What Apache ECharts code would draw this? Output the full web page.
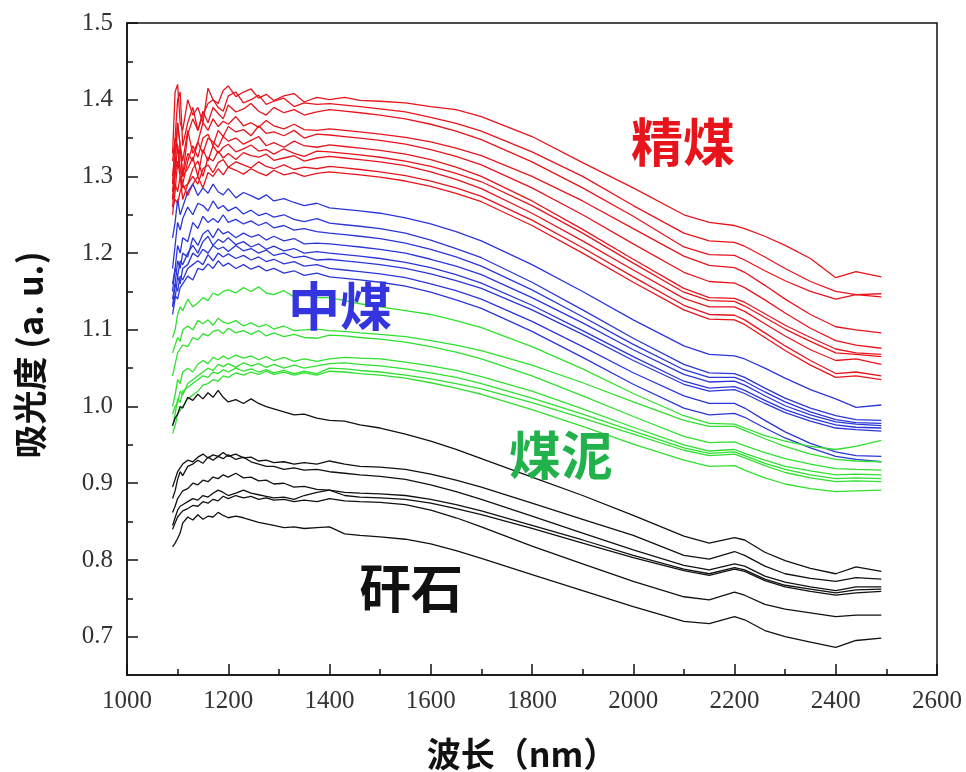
<!DOCTYPE html>
<html><head><meta charset="utf-8">
<script src="https://cdn.jsdelivr.net/npm/echarts@6/dist/echarts.min.js"></script>
<style>html,body{margin:0;padding:0;background:#fff}#c{width:966px;height:772px}</style>
</head><body><div id="c"></div>
<script>
const wavelengths = [1090,1095,1100,1105,1110,1120,1130,1140,1150,1160,1170,1180,1190,1200,1215,1230,1245,1260,1275,1290,1310,1330,1350,1375,1400,1430,1460,1500,1550,1600,1650,1700,1800,1900,2000,2100,2150,2200,2220,2260,2300,2350,2400,2440,2490];

const jingmei = [
 [1.33,1.41,1.42,1.37,1.36,1.40,1.38,1.39,1.37,1.415,1.40,1.395,1.412,1.418,1.404,1.41,1.414,1.402,1.407,1.399,1.405,1.408,1.397,1.403,1.400,1.403,1.399,1.398,1.396,1.391,1.387,1.378,1.352,1.318,1.285,1.250,1.240,1.236,1.232,1.222,1.210,1.193,1.168,1.176,1.169],
 [1.29,1.35,1.40,1.41,1.34,1.37,1.39,1.36,1.38,1.395,1.40,1.39,1.385,1.405,1.41,1.396,1.40,1.406,1.394,1.398,1.402,1.391,1.396,1.394,1.395,1.393,1.391,1.388,1.384,1.377,1.369,1.359,1.332,1.300,1.262,1.226,1.216,1.214,1.209,1.195,1.180,1.163,1.150,1.146,1.147],
 [1.27,1.31,1.37,1.34,1.30,1.355,1.375,1.36,1.385,1.37,1.39,1.382,1.375,1.393,1.384,1.388,1.395,1.385,1.38,1.39,1.383,1.387,1.38,1.384,1.387,1.385,1.383,1.380,1.375,1.368,1.359,1.348,1.319,1.285,1.248,1.208,1.198,1.197,1.191,1.177,1.164,1.150,1.140,1.146,1.143],
 [1.30,1.33,1.37,1.34,1.32,1.36,1.33,1.345,1.37,1.36,1.375,1.365,1.372,1.368,1.378,1.366,1.37,1.364,1.373,1.366,1.362,1.368,1.361,1.36,1.362,1.360,1.358,1.355,1.351,1.345,1.337,1.327,1.300,1.268,1.232,1.196,1.184,1.181,1.175,1.158,1.140,1.120,1.104,1.100,1.096],
 [1.26,1.30,1.34,1.31,1.29,1.32,1.34,1.325,1.35,1.355,1.34,1.36,1.352,1.365,1.358,1.361,1.353,1.366,1.356,1.358,1.353,1.36,1.35,1.355,1.354,1.352,1.350,1.347,1.342,1.335,1.326,1.315,1.285,1.250,1.212,1.175,1.163,1.161,1.155,1.139,1.122,1.102,1.086,1.080,1.076],
 [1.32,1.35,1.34,1.31,1.30,1.33,1.32,1.345,1.33,1.35,1.345,1.338,1.352,1.346,1.35,1.342,1.347,1.352,1.34,1.344,1.338,1.346,1.34,1.338,1.341,1.339,1.337,1.334,1.329,1.322,1.312,1.300,1.268,1.231,1.192,1.154,1.142,1.141,1.136,1.121,1.106,1.090,1.075,1.070,1.068],
 [1.28,1.32,1.31,1.34,1.30,1.31,1.325,1.30,1.335,1.32,1.34,1.33,1.338,1.342,1.332,1.336,1.341,1.333,1.335,1.329,1.336,1.33,1.326,1.333,1.332,1.330,1.328,1.325,1.320,1.313,1.304,1.293,1.262,1.226,1.187,1.149,1.138,1.137,1.131,1.116,1.101,1.085,1.070,1.068,1.065],
 [1.25,1.28,1.32,1.30,1.27,1.29,1.31,1.32,1.30,1.325,1.32,1.333,1.324,1.33,1.322,1.331,1.327,1.325,1.329,1.321,1.324,1.327,1.32,1.324,1.326,1.324,1.322,1.319,1.314,1.306,1.296,1.284,1.252,1.216,1.178,1.141,1.130,1.130,1.124,1.108,1.092,1.074,1.060,1.062,1.055],
 [1.27,1.29,1.28,1.30,1.285,1.29,1.30,1.29,1.31,1.315,1.305,1.318,1.322,1.312,1.319,1.315,1.311,1.319,1.313,1.31,1.315,1.309,1.312,1.31,1.313,1.311,1.309,1.306,1.301,1.294,1.285,1.274,1.243,1.207,1.169,1.132,1.120,1.119,1.113,1.096,1.079,1.060,1.043,1.045,1.040],
 [1.26,1.27,1.265,1.28,1.29,1.275,1.29,1.30,1.285,1.305,1.30,1.31,1.302,1.312,1.308,1.303,1.31,1.305,1.301,1.308,1.302,1.305,1.30,1.304,1.306,1.304,1.302,1.299,1.294,1.287,1.278,1.267,1.236,1.200,1.162,1.126,1.114,1.113,1.107,1.090,1.073,1.054,1.038,1.040,1.035]
];

const zhongmei = [
 [1.22,1.24,1.27,1.25,1.26,1.28,1.29,1.275,1.285,1.278,1.29,1.28,1.276,1.284,1.272,1.279,1.275,1.27,1.276,1.268,1.271,1.266,1.262,1.265,1.259,1.257,1.255,1.252,1.246,1.238,1.228,1.216,1.185,1.150,1.113,1.079,1.068,1.066,1.062,1.050,1.037,1.022,1.010,0.999,1.002],
 [1.18,1.21,1.24,1.23,1.245,1.26,1.25,1.265,1.262,1.255,1.268,1.258,1.262,1.255,1.26,1.251,1.256,1.249,1.252,1.247,1.25,1.244,1.241,1.245,1.239,1.237,1.235,1.232,1.226,1.217,1.206,1.194,1.162,1.126,1.089,1.055,1.044,1.043,1.038,1.024,1.011,0.998,0.988,0.983,0.982],
 [1.15,1.18,1.21,1.20,1.22,1.215,1.24,1.232,1.248,1.24,1.245,1.24,1.25,1.24,1.244,1.238,1.242,1.236,1.24,1.233,1.236,1.23,1.232,1.228,1.226,1.224,1.222,1.219,1.213,1.205,1.195,1.183,1.152,1.117,1.081,1.048,1.038,1.038,1.033,1.019,1.006,0.993,0.983,0.979,0.978],
 [1.13,1.16,1.19,1.18,1.20,1.195,1.22,1.21,1.225,1.23,1.22,1.232,1.225,1.228,1.22,1.226,1.221,1.224,1.217,1.222,1.216,1.219,1.212,1.213,1.212,1.210,1.208,1.205,1.200,1.192,1.183,1.172,1.142,1.109,1.074,1.042,1.032,1.033,1.028,1.014,1.001,0.989,0.980,0.977,0.975],
 [1.16,1.18,1.17,1.19,1.185,1.20,1.21,1.20,1.215,1.222,1.21,1.218,1.214,1.22,1.211,1.215,1.208,1.212,1.205,1.209,1.203,1.206,1.20,1.202,1.200,1.198,1.196,1.193,1.188,1.181,1.172,1.161,1.132,1.099,1.065,1.033,1.024,1.026,1.021,1.008,0.996,0.985,0.976,0.973,0.972],
 [1.12,1.14,1.17,1.16,1.18,1.185,1.20,1.195,1.205,1.20,1.21,1.205,1.208,1.202,1.21,1.203,1.206,1.20,1.204,1.197,1.20,1.194,1.196,1.191,1.192,1.190,1.188,1.185,1.180,1.173,1.164,1.154,1.126,1.094,1.060,1.029,1.020,1.022,1.017,1.004,0.992,0.981,0.972,0.970,0.968],
 [1.14,1.16,1.15,1.17,1.165,1.18,1.185,1.19,1.185,1.198,1.19,1.20,1.195,1.199,1.193,1.197,1.191,1.195,1.189,1.192,1.186,1.189,1.183,1.185,1.180,1.178,1.176,1.173,1.168,1.160,1.151,1.140,1.111,1.078,1.044,1.014,1.004,1.004,0.998,0.982,0.967,0.952,0.941,0.936,0.935],
 [1.13,1.145,1.14,1.155,1.16,1.17,1.165,1.18,1.178,1.186,1.18,1.19,1.183,1.187,1.18,1.185,1.179,1.183,1.177,1.18,1.174,1.177,1.171,1.174,1.169,1.167,1.165,1.162,1.157,1.149,1.139,1.128,1.098,1.064,1.029,0.998,0.989,0.991,0.986,0.972,0.959,0.946,0.935,0.931,0.928]
];

const meini = [
 [1.09,1.10,1.12,1.13,1.125,1.14,1.13,1.135,1.142,1.138,1.148,1.145,1.15,1.152,1.148,1.155,1.15,1.156,1.148,1.146,1.151,1.143,1.147,1.142,1.142,1.138,1.134,1.130,1.125,1.120,1.112,1.103,1.078,1.049,1.017,0.988,0.978,0.977,0.972,0.962,0.955,0.948,0.944,0.948,0.956],
 [1.07,1.08,1.09,1.085,1.10,1.105,1.10,1.112,1.108,1.113,1.106,1.115,1.11,1.108,1.112,1.105,1.109,1.104,1.107,1.101,1.105,1.099,1.10,1.101,1.099,1.098,1.096,1.094,1.091,1.086,1.080,1.073,1.054,1.031,1.006,0.982,0.974,0.974,0.969,0.958,0.948,0.938,0.931,0.929,0.928],
 [1.04,1.055,1.07,1.075,1.08,1.078,1.09,1.087,1.095,1.092,1.098,1.10,1.095,1.102,1.096,1.099,1.094,1.099,1.092,1.096,1.091,1.094,1.09,1.089,1.093,1.092,1.090,1.088,1.084,1.078,1.071,1.062,1.040,1.014,0.987,0.961,0.953,0.954,0.949,0.940,0.932,0.925,0.919,0.918,0.917],
 [1.00,1.015,1.035,1.03,1.045,1.05,1.045,1.055,1.06,1.056,1.064,1.061,1.066,1.062,1.067,1.063,1.066,1.061,1.065,1.06,1.064,1.059,1.062,1.059,1.062,1.064,1.063,1.062,1.058,1.053,1.047,1.039,1.020,0.997,0.973,0.950,0.942,0.944,0.939,0.930,0.922,0.916,0.911,0.912,0.911],
 [0.99,1.00,1.005,1.02,1.015,1.03,1.035,1.04,1.045,1.05,1.047,1.055,1.052,1.056,1.051,1.057,1.053,1.056,1.051,1.055,1.05,1.054,1.05,1.053,1.056,1.057,1.055,1.053,1.049,1.044,1.038,1.030,1.011,0.990,0.968,0.946,0.939,0.941,0.936,0.926,0.918,0.911,0.906,0.907,0.906],
 [0.975,0.99,1.01,1.005,1.02,1.025,1.03,1.035,1.04,1.038,1.045,1.043,1.048,1.045,1.05,1.046,1.049,1.045,1.048,1.044,1.047,1.043,1.046,1.043,1.050,1.049,1.047,1.045,1.041,1.036,1.030,1.023,1.005,0.985,0.964,0.943,0.936,0.938,0.933,0.923,0.914,0.907,0.902,0.903,0.902],
 [0.965,0.975,0.99,0.995,1.00,1.01,1.015,1.02,1.028,1.03,1.035,1.033,1.04,1.038,1.044,1.041,1.045,1.042,1.046,1.042,1.045,1.041,1.044,1.041,1.046,1.045,1.043,1.041,1.037,1.031,1.024,1.016,0.996,0.974,0.951,0.930,0.922,0.923,0.917,0.907,0.899,0.893,0.889,0.890,0.891]
];

const ganshi = [
 [0.975,0.985,0.99,1.00,0.998,1.012,1.008,1.016,1.01,1.018,1.012,1.021,1.012,1.006,1.009,1.004,1.01,1.004,1.00,0.997,0.993,0.989,0.99,0.985,0.982,0.981,0.976,0.972,0.964,0.955,0.944,0.932,0.908,0.884,0.858,0.831,0.822,0.829,0.826,0.810,0.799,0.789,0.782,0.791,0.785],
 [0.895,0.905,0.915,0.92,0.925,0.93,0.928,0.934,0.938,0.933,0.937,0.935,0.94,0.935,0.938,0.933,0.934,0.929,0.93,0.927,0.928,0.925,0.927,0.925,0.929,0.925,0.922,0.921,0.918,0.912,0.904,0.895,0.874,0.853,0.832,0.806,0.801,0.811,0.806,0.792,0.782,0.776,0.772,0.777,0.775],
 [0.88,0.89,0.905,0.915,0.91,0.922,0.925,0.93,0.926,0.934,0.93,0.935,0.932,0.937,0.931,0.934,0.928,0.925,0.922,0.922,0.918,0.92,0.917,0.918,0.915,0.913,0.911,0.909,0.905,0.898,0.889,0.879,0.857,0.835,0.813,0.793,0.787,0.795,0.792,0.779,0.771,0.765,0.760,0.765,0.765],
 [0.862,0.87,0.88,0.885,0.89,0.893,0.90,0.898,0.904,0.902,0.908,0.906,0.911,0.908,0.913,0.907,0.908,0.903,0.904,0.899,0.90,0.895,0.896,0.892,0.891,0.888,0.887,0.886,0.884,0.879,0.872,0.864,0.845,0.826,0.806,0.788,0.782,0.790,0.787,0.775,0.767,0.762,0.757,0.761,0.762],
 [0.845,0.855,0.865,0.87,0.872,0.876,0.88,0.878,0.884,0.882,0.887,0.891,0.888,0.884,0.887,0.891,0.887,0.885,0.883,0.881,0.882,0.879,0.884,0.888,0.891,0.884,0.882,0.881,0.879,0.874,0.867,0.859,0.841,0.822,0.803,0.786,0.780,0.788,0.785,0.773,0.765,0.759,0.754,0.757,0.759],
 [0.84,0.848,0.856,0.86,0.864,0.867,0.871,0.87,0.876,0.874,0.879,0.877,0.883,0.88,0.884,0.881,0.883,0.879,0.881,0.878,0.879,0.876,0.878,0.876,0.88,0.877,0.876,0.875,0.872,0.865,0.855,0.843,0.818,0.795,0.772,0.752,0.748,0.758,0.754,0.742,0.736,0.731,0.726,0.728,0.728],
 [0.817,0.822,0.828,0.835,0.848,0.856,0.852,0.859,0.853,0.857,0.856,0.862,0.858,0.855,0.857,0.855,0.852,0.849,0.847,0.845,0.842,0.843,0.841,0.842,0.843,0.834,0.832,0.830,0.827,0.821,0.812,0.802,0.781,0.760,0.739,0.720,0.717,0.726,0.722,0.708,0.700,0.693,0.686,0.695,0.698]
];

const yMajorTicks = [0.7,0.8,0.9,1.0,1.1,1.2,1.3,1.4,1.5];
const yMinorTicks = [0.75,0.85,0.95,1.05,1.15,1.25,1.35,1.45];
const groupNames = ['精煤','中煤','煤泥','矸石'];

const groups = [
  {data: jingmei, color: '#e8141c'},
  {data: zhongmei, color: '#2a36d8'},
  {data: meini, color: '#2fe02f'},
  {data: ganshi, color: '#111111'}
];

const series = [];
groups.forEach((g, gi) => {
  g.data.forEach((arr, i) => {
    series.push({
      type: 'line', name: groupNames[gi] + (i + 1), showSymbol: false, symbol: 'none',
      silent: true, animation: false, z: 2 + gi,
      lineStyle: {color: g.color, width: 1.3},
      data: wavelengths.map((w, k) => [w, arr[k]])
    });
  });
});

const labelFont = '"Noto Sans CJK SC", "Noto Sans", sans-serif';
const tickFont = '"Liberation Serif", "DejaVu Serif", serif';

const chart = echarts.init(document.getElementById('c'), null, {renderer: 'canvas'});
chart.setOption({
  backgroundColor: '#fff',
  animation: false,
  grid: {left: 127, right: 29, top: 23, bottom: 97, show: true, borderColor: '#111', borderWidth: 1.5, outerBoundsMode: 'none', containLabel: false},
  xAxis: {
    type: 'value', min: 1000, max: 2600, interval: 200,
    axisLine: {show: true, lineStyle: {color: '#111', width: 1.5}},
    axisTick: {show: true, inside: true, length: 11, lineStyle: {color: '#111', width: 1.5}},
    minorTick: {show: true, splitNumber: 2, length: 6, lineStyle: {color: '#111', width: 1.5}},
    splitLine: {show: false},
    axisLabel: {fontFamily: tickFont, fontSize: 25, color: '#333', margin: 14, formatter: v => String(v)},
    name: '波长（nm）', nameLocation: 'middle', nameGap: 62,
    nameTextStyle: {fontFamily: labelFont, fontWeight: 'bold', fontSize: 34, color: '#111', padding: [0, 20, 0, 0]}
  },
  yAxis: [{
    type: 'value', min: 0.65, max: 1.5,
    axisLine: {show: true, lineStyle: {color: '#111', width: 1.5}},
    axisTick: {show: true, inside: true, length: 11, customValues: yMajorTicks, lineStyle: {color: '#111', width: 1.5}},
    splitLine: {show: false},
    axisLabel: {fontFamily: tickFont, fontSize: 25, color: '#333', margin: 14, customValues: yMajorTicks, formatter: v => v.toFixed(1)},
    name: '吸光度 (a. u.)', nameLocation: 'middle', nameGap: 80,
    nameTextStyle: {fontFamily: labelFont, fontWeight: 'bold', fontSize: 34, color: '#111', padding: [0, 12, 0, 0]}
  }, {
    type: 'value', min: 0.65, max: 1.5, position: 'left',
    axisLine: {show: false},
    axisTick: {show: true, inside: true, length: 6, customValues: yMinorTicks, lineStyle: {color: '#111', width: 1.5}},
    axisLabel: {show: false}, splitLine: {show: false}
  }],
  graphic: [
    {type: 'text', x: 683, y: 142, z: 100, style: {text: '精煤', fill: '#e8141c', font: 'bold 52px ' + labelFont, align: 'center', verticalAlign: 'middle'}},
    {type: 'text', x: 340, y: 306, z: 100, style: {text: '中煤', fill: '#3535e0', font: 'bold 52px ' + labelFont, align: 'center', verticalAlign: 'middle'}},
    {type: 'text', x: 561, y: 455, z: 100, style: {text: '煤泥', fill: '#22b24c', font: 'bold 52px ' + labelFont, align: 'center', verticalAlign: 'middle'}},
    {type: 'text', x: 411, y: 588, z: 100, style: {text: '矸石', fill: '#111', font: 'bold 52px ' + labelFont, align: 'center', verticalAlign: 'middle'}}
  ],
  series: series
});
</script>
</body></html>
